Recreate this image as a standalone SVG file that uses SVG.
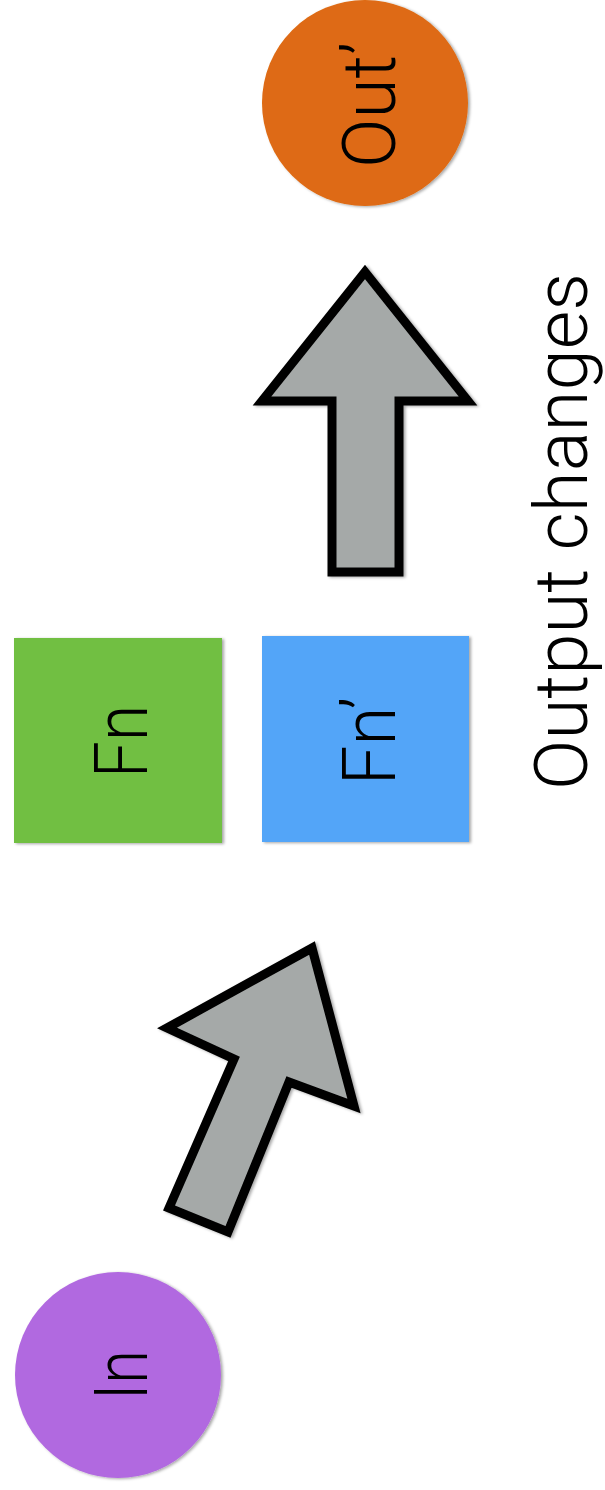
<svg xmlns="http://www.w3.org/2000/svg" width="605" height="1490" viewBox="0 0 605 1490">
<defs>
<filter id="sh" x="-10%" y="-10%" width="120%" height="120%">
<feDropShadow dx="2" dy="1" stdDeviation="1.5" flood-color="#000" flood-opacity="0.35"/>
</filter>
</defs>
<style>
.lbl{font-family:Roboto,"Liberation Sans","DejaVu Sans",sans-serif;font-weight:300;font-size:75px;fill:#000;text-anchor:middle}
.arrow{fill:#A5A9A8;stroke:#000;stroke-width:9;stroke-linejoin:miter;stroke-miterlimit:10}
</style>
<rect width="605" height="1490" fill="#fff"/>
<g id="connectors">
<polygon class="arrow" filter="url(#sh)" points="312,948 354,1106 289,1082 228,1232 169,1208 234,1059 167,1028"/>
<polygon class="arrow" filter="url(#sh)" points="365,272 468,401 399,401 399,572 332,572 332,401 262,401"/>
</g>
<g id="in">
<circle cx="118" cy="1375" r="103" fill="#B169E0" filter="url(#sh)"/>
<text class="lbl" transform="translate(147,1375) rotate(-90)" textLength="50" lengthAdjust="spacingAndGlyphs">In</text>
</g>
<g id="fn">
<rect x="14" y="638" width="208" height="205" fill="#71BF43" filter="url(#sh)"/>
<text class="lbl" transform="translate(147,741.5) rotate(-90)" textLength="73" lengthAdjust="spacingAndGlyphs">Fn</text>
</g>
<g id="fn2">
<rect x="262" y="636" width="207" height="206" fill="#52A5F8" filter="url(#sh)"/>
<text class="lbl" transform="translate(395,741) rotate(-90)" textLength="88" lengthAdjust="spacingAndGlyphs">Fn’</text>
</g>
<g id="out">
<circle cx="365" cy="103" r="103" fill="#DE6A12" filter="url(#sh)"/>
<text class="lbl" transform="translate(395,105) rotate(-90)" textLength="126" lengthAdjust="spacingAndGlyphs">Out’</text>
</g>
<g id="caption">
<text class="lbl" transform="translate(587,531.5) rotate(-90)" textLength="517" lengthAdjust="spacingAndGlyphs">Output changes</text>
</g>
</svg>
